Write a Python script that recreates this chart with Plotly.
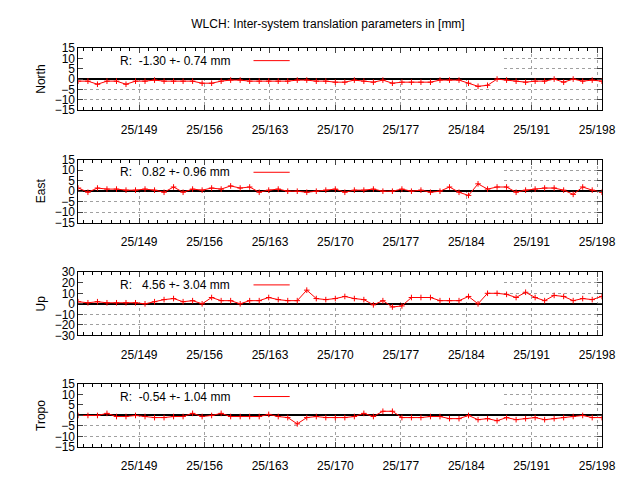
import numpy as np
import plotly.graph_objects as go

start_day = 142.5
end_day = 198.5
north = [-1,-1,-2.5,-1,-1,-2.5,-1,-1,-0.5,-1,
         -1,-1,-1,-2,-2,-1,-0.5,-0.5,-1,-1,
         -1,-1,-1,-0.5,-0.5,-1,-1,-1.5,-1.5,-0.5,
         -1,-1.5,-0.5,-2,-1.5,-1.5,-1.5,-1.5,-0.5,-0.5,
         -0.5,-2,-3.5,-3,0,-0.5,-1,-1.5,-1,-1,
         0,-1.5,0,-1,-0.5,-1]
east = [1.5,-0.5,1.5,1,1,0.5,0.5,1,0.5,-0.5,
        2,-0.5,1,0.5,1.5,1,2.5,1.5,2,-0.5,
        0.5,1,0,0,-0.5,0,0.5,1,-0.5,0.5,
        0.5,1,0,0,1,0,0.5,-0.5,0,2,
        -0.5,-2,3.5,1,2,2,-0.5,0.5,1,1.5,
        1.5,0.5,-1.5,2,0.5,-0.5]
up = [2,1,2,1,1,1,1,0,2,4,
      5,2,3,0,6,3,3,0,3,3,
      6,4,3,3,13,5,4,5,7,5,
      4,-1,3,-3,-2,6,6,6,3,3,
      3,7,0,10,10,9,6,11,6,3,
      8,7,3,5,4,7]
tropo = [0,0,0,1,-0.5,-0.5,0,-0.5,-1,-1,
         -0.5,-0.5,1,-0.5,0,1,-0.5,-0.5,-0.5,-0.5,
         0.5,-0.5,-1,-4,-1,-0.5,-1,-1,-1,-0.5,
         1,-0.5,2,2,-1,-1,-1,-0.5,-0.5,-1.5,
         -1.5,0,-2,-1.5,-2.5,-1,-2,-1.5,-1,-2,
         -1.5,-1,-0.5,0,-1,-1]
names = ["North", "East", "Up", "Tropo"]
series = [north, east, up, tropo]
stats = ["R:  -1.30 +- 0.74 mm", "R:   0.82 +- 0.96 mm", "R:   4.56 +- 3.04 mm", "R:  -0.54 +- 1.04 mm"]
yranges = [15, 15, 30, 15]
tick_days = [149, 156, 163, 170, 177, 184, 191, 198]
tick_text = ["25/%d" % d for d in tick_days]

F = "Liberation Sans"
fig = go.Figure()
domains = [(34, 98), (149, 214), (265, 330), (380, 445)]
H = 480
for i, (nm, vals) in enumerate(zip(names, series)):
    ax = "" if i == 0 else str(i + 1)
    x = np.linspace(start_day, end_day, len(vals))
    fig.add_trace(go.Scatter(x=x, y=vals, mode="lines+markers", xaxis="x" + ax, yaxis="y" + ax,
                             line=dict(color="red", width=1), cliponaxis=True,
                             marker=dict(symbol="cross-thin", size=4, line=dict(color="red", width=1)),
                             showlegend=False))
    R = yranges[i]
    t, b = domains[i]
    fig.layout["xaxis" + ax] = dict(domain=[72 / 640, 607 / 640], range=[start_day, end_day],
        anchor="y" + ax, tickvals=tick_days, ticktext=tick_text, ticks="inside", ticklen=5,
        mirror="ticks", showline=True, linecolor="black", linewidth=1, ticklabelstandoff=8,
        showgrid=True, gridcolor="#a0a0a0", griddash="dot", gridwidth=1, zeroline=False,
        minor=dict(dtick=1, tick0=0, ticks="inside", ticklen=3, showgrid=False, tickcolor="black"),
        tickfont=dict(family=F, size=12, color="black"))
    fig.layout["yaxis" + ax] = dict(domain=[1 - b / H, 1 - t / H], range=[-R, R], anchor="x" + ax,
        dtick=R / 3, ticks="inside", ticklen=5, mirror="ticks", showline=True, linecolor="black",
        showgrid=True, gridcolor="#a0a0a0", griddash="dot", zeroline=True, zerolinecolor="black",
        zerolinewidth=1.5, title=dict(text=nm, font=dict(family=F, size=12, color="black"), standoff=6),
        tickfont=dict(family=F, size=12, color="black"))
    fig.add_shape(type="rect", xref="x" + ax, yref="y" + ax, x0=start_day + 0.1, x1=187.9,
                  y0=R * 0.08, y1=R * 0.97, fillcolor="white", line_width=0, layer="between")
    ymid = 1 - (t + 13) / H
    fig.add_annotation(xref="paper", yref="paper", x=112 / 640, y=ymid, text=stats[i], showarrow=False,
                       xanchor="left", yanchor="middle", font=dict(family=F, size=12, color="black"))
    fig.add_shape(type="line", xref="paper", yref="paper", x0=251 / 640, x1=288 / 640, y0=ymid, y1=ymid,
                  line=dict(color="red", width=1))

fig.update_layout(width=640, height=480, margin=dict(l=0, r=0, t=0, b=0),
                  plot_bgcolor="white", paper_bgcolor="white",
                  title=dict(text="WLCH: Inter-system translation parameters in [mm]", x=0.5, y=1 - 16 / H,
                             xanchor="center", yanchor="middle", font=dict(family=F, size=12, color="black")))
fig.write_html("out.html")
